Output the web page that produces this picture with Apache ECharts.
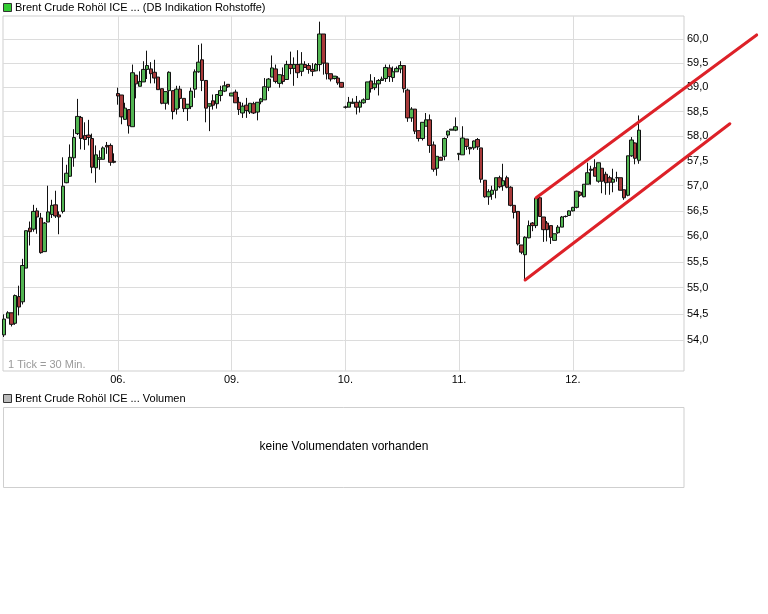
<!DOCTYPE html>
<html><head><meta charset="utf-8">
<script src="https://cdn.jsdelivr.net/npm/echarts@6/dist/echarts.min.js"></script>
<style>html,body{margin:0;padding:0;background:#fff}#c{width:768px;height:614px}</style>
</head><body><div id="c"></div>
<script>
const seriesName = 'Brent Crude Rohöl ICE ... (DB Indikation Rohstoffe)';
const volumeTitle = 'Brent Crude Rohöl ICE ... Volumen';
const noVolumeText = 'keine Volumendaten vorhanden';
const tickNote = '1 Tick = 30 Min.';
const dayLabels = ['06.', '09.', '10.', '11.', '12.'];
const yTickValues = [60.0, 59.5, 59.0, 58.5, 58.0, 57.5, 57.0, 56.5, 56.0, 55.5, 55.0, 54.5, 54.0];
const yTickLabels = ['60,0', '59,5', '59,0', '58,5', '58,0', '57,5', '57,0', '56,5', '56,0', '55,5', '55,0', '54,5', '54,0'];

// 30-min candles, each [open, close, low, high]
const d05 = [
  [54.10,54.40,54.06,54.49],[54.42,54.52,54.42,54.55],[54.52,54.30,54.26,54.52],[54.32,54.85,54.29,54.87],
  [54.83,54.63,54.47,55.04],[54.73,55.43,54.68,55.56],[55.38,56.11,55.38,56.11],[56.16,56.09,55.82,56.29],
  [56.14,56.49,56.09,56.62],[56.50,56.38,56.05,56.56],[56.36,55.68,55.66,56.46],[55.70,56.26,55.70,56.28],
  [56.28,56.48,56.28,57.00],[56.43,56.61,56.36,56.72],[56.62,56.40,56.36,56.90],[56.42,56.38,56.04,56.49],
  [56.49,56.99,56.45,57.57],[57.06,57.25,57.05,57.42],[57.19,57.57,57.18,57.83],[57.56,57.97,57.38,58.14],
  [58.05,58.40,58.02,58.76],[58.38,57.95,57.73,58.41],[58.01,57.93,57.72,58.28],[58.02,57.97,57.81,58.33],
  [57.95,57.37,57.25,58.05],[57.36,57.62,57.06,57.81],[57.53,57.56,57.32,57.71],[57.53,57.76,57.53,57.79],
  [57.81,57.78,57.64,57.88],[57.81,57.47,57.40,57.85],[57.49,57.47,57.45,57.65]
];
const d06 = [
  [58.87,58.82,58.64,58.99],[58.84,58.39,58.24,58.84],[58.34,58.57,58.33,58.68],[58.54,58.21,58.05,58.54],
  [58.19,59.30,58.19,59.47],[59.25,59.07,58.77,59.25],[59.02,59.12,59.02,59.33],[59.11,59.37,59.11,59.54],
  [59.37,59.45,59.17,59.76],[59.38,59.28,59.08,59.52],[59.31,59.19,59.08,59.57],[59.21,58.95,58.95,59.21],
  [58.97,58.67,58.65,58.97],[58.67,58.91,58.54,58.91],[58.93,59.31,58.64,59.33],[58.93,58.50,58.34,58.93],
  [58.55,58.96,58.44,59.03],[58.96,58.77,58.57,59.03],[58.77,58.56,58.49,58.77],[58.56,58.65,58.31,58.65],
  [58.60,58.92,58.55,58.99],[58.96,59.32,58.78,59.37],[59.32,59.52,59.30,59.88],[59.57,59.14,58.92,59.91],
  [59.14,58.57,58.28,59.14],[58.61,58.66,58.10,58.66],[58.72,58.63,58.54,58.85],[58.66,58.85,58.56,58.85],
  [58.83,58.93,58.71,59.03],[58.92,59.03,58.90,59.12],[59.06,59.01,58.99,59.06]
];
const d09 = [
  [58.82,58.88,58.82,58.88],[58.90,58.68,58.68,58.95],[58.69,58.54,58.43,58.80],[58.47,58.61,58.37,58.68],
  [58.63,58.52,58.37,58.78],[58.49,58.67,58.45,58.67],[58.66,58.47,58.45,58.70],[58.49,58.69,58.32,58.69],
  [58.70,58.76,58.65,58.78],[58.74,59.01,58.74,59.19],[59.00,59.17,58.92,59.19],[59.21,59.40,59.21,59.66],
  [59.38,59.12,59.08,59.47],[59.08,59.26,58.99,59.26],[59.24,59.12,59.06,59.41],[59.16,59.47,59.16,59.55],
  [59.47,59.39,59.27,59.74],[59.39,59.47,59.03,59.62],[59.47,59.30,59.19,59.77],[59.33,59.48,59.23,59.73],
  [59.47,59.41,59.40,59.54],[59.45,59.37,59.28,59.50],[59.37,59.33,59.23,59.50],[59.34,59.47,59.33,59.50],
  [59.47,60.11,59.33,60.37],[60.11,59.50,59.26,60.11],[59.50,59.28,59.16,59.50],[59.28,59.17,59.12,59.28],
  [59.18,59.23,59.16,59.23],[59.19,59.09,59.05,59.23],[59.10,59.00,58.99,59.10]
];
const d10 = [
  [58.59,58.59,58.56,58.62],[58.59,58.69,58.59,58.80],[58.67,58.69,58.66,58.77],[58.69,58.59,58.44,58.82],
  [58.59,58.69,58.48,58.73],[58.68,58.74,58.66,58.77],[58.75,59.11,58.75,59.11],[59.13,58.97,58.89,59.27],
  [58.99,59.07,58.94,59.21],[59.07,59.14,58.83,59.17],[59.14,59.17,59.14,59.22],[59.18,59.41,59.11,59.47],
  [59.40,59.22,59.11,59.47],[59.20,59.32,59.11,59.43],[59.32,59.39,59.32,59.43],[59.38,59.45,59.29,59.54],
  [59.45,58.97,58.89,59.45],[58.94,58.37,58.29,58.97],[58.37,58.55,58.29,58.59],[58.55,58.10,58.04,58.55],
  [58.11,57.95,57.89,58.11],[57.95,58.28,57.91,58.28],[58.20,58.33,58.20,58.47],[58.33,57.81,57.66,58.44],
  [57.82,57.33,57.28,57.89],[57.35,57.59,57.20,57.59],[57.57,57.51,57.51,57.58],[57.59,57.95,57.51,57.97],
  [58.02,58.10,57.96,58.11],[58.12,58.14,58.12,58.14],[58.12,58.19,58.10,58.38]
];
const d11 = [
  [57.63,57.65,57.51,57.65],[57.62,57.96,57.62,58.20],[57.94,57.79,57.72,57.94],[57.77,57.74,57.63,57.77],
  [57.76,57.90,57.72,57.91],[57.93,57.78,57.72,57.96],[57.76,57.13,57.06,57.76],[57.11,56.78,56.76,57.11],
  [56.78,56.88,56.62,56.93],[56.83,56.91,56.72,57.00],[56.91,57.16,56.75,57.16],[57.16,56.98,56.95,57.20],
  [57.00,57.10,56.90,57.44],[57.16,56.97,56.95,57.20],[56.97,56.61,56.59,56.99],[56.61,56.47,56.35,56.61],
  [56.49,55.85,55.82,56.49],[55.83,55.69,55.65,55.83],[55.64,55.98,55.16,56.00],[55.97,56.21,55.96,56.31],
  [56.26,56.21,56.10,56.28],[56.21,56.75,56.16,56.77],[56.76,56.39,56.39,56.78],[56.38,56.13,55.89,56.38],
  [56.26,56.13,55.90,56.30],[56.21,55.98,55.85,56.21],[55.92,56.05,55.92,56.05],[56.07,56.18,56.05,56.22],
  [56.18,56.38,56.18,56.40],[56.39,56.39,56.37,56.41],[56.41,56.50,56.41,56.51]
];
const d12 = [
  [56.50,56.57,56.49,56.58],[56.57,56.89,56.55,56.90],[56.87,56.81,56.78,56.89],[56.78,57.03,56.77,57.03],
  [57.03,57.26,57.03,57.46],[57.33,57.31,57.02,57.40],[57.36,57.19,57.19,57.53],[57.09,57.46,57.06,57.46],
  [57.35,57.09,56.85,57.35],[57.23,57.06,56.82,57.28],[57.16,57.07,56.82,57.20],[57.07,57.13,56.87,57.34],
  [57.16,57.16,57.08,57.28],[57.16,56.91,56.91,57.16],[56.92,56.76,56.72,56.92],[56.81,57.60,56.79,57.60],
  [57.60,57.92,57.58,57.98],[57.86,57.55,57.43,57.87],[57.51,58.12,57.44,58.42]
];
// trend channel lines: [start index, start price, end index, end price]
const upperTrend = [145.0, 56.76, 205.1, 60.09];
const lowerTrend = [142.0, 55.15, 197.8, 58.25];

const days = [d05, d06, d09, d10, d11, d12];
const candles = [];
const dayStarts = [];
days.forEach(function (d, k) {
  if (k > 0) dayStarts.push(candles.length);
  d.forEach(function (c) { candles.push([candles.length, c[0], c[1], c[2], c[3]]); });
});

const FONT = 'Liberation Sans, Arial, sans-serif';
const gridLine = { color: '#dcdcdc', width: 1, type: 'solid' };

const hLines = yTickValues.map(function (v, k) {
  return { yAxis: v, label: { formatter: yTickLabels[k], position: 'end' } };
});
const vLines = dayStarts.map(function (v, k) {
  return { xAxis: v, label: { formatter: dayLabels[k], position: 'start' } };
});

const chart = echarts.init(document.getElementById('c'), null, { renderer: 'canvas' });
chart.setOption({
  animation: false,
  backgroundColor: '#ffffff',
  grid: { left: 3, right: 84, top: 16, bottom: 243, show: true, borderColor: '#cfcfcf', borderWidth: 1, backgroundColor: 'transparent' },
  xAxis: {
    type: 'value', min: -0.3, max: 185.3,
    axisLine: { show: false }, axisTick: { show: false }, axisLabel: { show: false }, splitLine: { show: false }
  },
  yAxis: {
    type: 'log', logBase: 10, min: 53.42, max: 60.49,
    axisLine: { show: false }, axisTick: { show: false }, axisLabel: { show: false }, splitLine: { show: false }
  },
  graphic: [
    { type: 'rect', shape: { x: 3.5, y: 3.5, width: 8, height: 8 }, style: { fill: '#33cc33', stroke: '#333', lineWidth: 1 } },
    { type: 'text', x: 15, y: 7.5, style: { text: seriesName, font: '11px ' + FONT, fill: '#000', textVerticalAlign: 'middle' } },
    { type: 'text', x: 8, y: 364.5, style: { text: tickNote, font: '11px ' + FONT, fill: '#9a9a9a', textVerticalAlign: 'middle' } },
    { type: 'rect', shape: { x: 3.5, y: 394.5, width: 8, height: 8 }, style: { fill: '#bbbbbb', stroke: '#333', lineWidth: 1 } },
    { type: 'text', x: 15, y: 398.5, style: { text: volumeTitle, font: '11px ' + FONT, fill: '#000', textVerticalAlign: 'middle' } },
    { type: 'rect', shape: { x: 3.5, y: 407.5, width: 680.5, height: 80 }, style: { fill: 'none', stroke: '#cfcfcf', lineWidth: 1 } },
    { type: 'text', x: 344, y: 447, style: { text: noVolumeText, font: '12px ' + FONT, fill: '#000', textAlign: 'center', textVerticalAlign: 'middle' } }
  ],
  series: [
    {
      name: seriesName,
      type: 'candlestick',
      data: candles,
      encode: { x: 0, y: [1, 2, 3, 4] },
      barWidth: 4,
      z: 3,
      itemStyle: {
        color: '#52b552', color0: '#a83a3a',
        borderColor: '#111', borderColor0: '#111', borderColorDoji: '#111', borderWidth: 1
      },
      markLine: {
        silent: true, z: 1, animation: false,
        symbol: ['none', 'none'],
        lineStyle: gridLine,
        label: { show: true, color: '#000', fontSize: 11, fontFamily: FONT, distance: 3 },
        data: hLines.concat(vLines)
      }
    },
    {
      type: 'custom', name: 'trend', clip: false, z: 5,
      data: [upperTrend, lowerTrend],
      encode: { x: [0, 2], y: [1, 3] },
      renderItem: function (params, api) {
        const p1 = api.coord([api.value(0), api.value(1)]);
        const p2 = api.coord([api.value(2), api.value(3)]);
        return {
          type: 'line',
          shape: { x1: p1[0], y1: p1[1], x2: p2[0], y2: p2[1] },
          style: { stroke: '#dd2128', lineWidth: 3, lineCap: 'round' }
        };
      }
    }
  ]
});
</script></body></html>
